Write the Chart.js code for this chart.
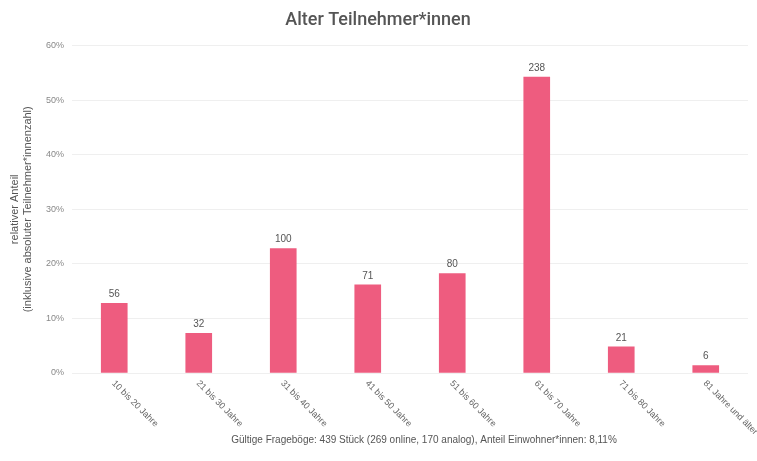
<!DOCTYPE html>
<html>
<head>
<meta charset="utf-8">
<script src="https://cdn.jsdelivr.net/npm/chart.js@4/dist/chart.umd.min.js"></script>
<style>
html,body{margin:0;padding:0;background:#fff;}
#wrap{width:757px;height:461px;position:relative;}
</style>
</head>
<body>
<div id="wrap"><canvas id="c" width="757" height="461"></canvas></div>
<script>
const categories = ["10 bis 20 Jahre","21 bis 30 Jahre","31 bis 40 Jahre","41 bis 50 Jahre","51 bis 60 Jahre","61 bis 70 Jahre","71 bis 80 Jahre","81 Jahre und älter"];
const counts = [56, 32, 100, 71, 80, 238, 21, 6];
const shares = [12.76, 7.29, 22.78, 16.17, 18.22, 54.21, 4.78, 1.37];
const yTicks = [0, 10, 20, 30, 40, 50, 60];
const titleText = "Alter Teilnehmer*innen";
const yTitle = ["relativer Anteil", "(inklusive absoluter Teilnehmer*innenzahl)"];
const footerText = "Gültige Frageböge: 439 Stück (269 online, 170 analog), Anteil Einwohner*innen: 8,11%";

const FONT = "'Liberation Sans', Arial, sans-serif";

const labelPlugin = {
  id: 'customText',
  afterDatasetsDraw(chart) {
    const ctx = chart.ctx;
    const meta = chart.getDatasetMeta(0);
    const xs = chart.scales.x;
    ctx.save();
    ctx.fillStyle = '#555';
    ctx.font = "10px " + FONT;
    ctx.textAlign = 'center';
    ctx.textBaseline = 'bottom';
    meta.data.forEach((bar, i) => {
      ctx.fillText(String(counts[i]), bar.x, bar.y - 4);
    });
    ctx.fillStyle = '#666';
    ctx.font = "9px " + FONT;
    ctx.textAlign = 'left';
    ctx.textBaseline = 'middle';
    categories.forEach((c, i) => {
      const x = xs.getPixelForTick(i);
      ctx.save();
      ctx.translate(x - 1, chart.chartArea.bottom + 9);
      ctx.rotate(Math.PI / 4);
      ctx.fillText(c, 0, 0);
      ctx.restore();
    });
    ctx.fillStyle = '#555';
    ctx.font = "10px " + FONT;
    ctx.textAlign = 'center';
    ctx.textBaseline = 'middle';
    ctx.fillText(footerText, 424, 440);
    ctx.restore();
  }
};

new Chart(document.getElementById('c'), {
  type: 'bar',
  data: {
    labels: categories,
    datasets: [{
      data: shares,
      backgroundColor: '#ee5c7f',
      borderWidth: 0,
      barThickness: 26
    }]
  },
  options: {
    responsive: false,
    animation: false,
    layout: { padding: { left: 8, right: 9, top: 0, bottom: 80 } },
    plugins: {
      legend: { display: false },
      tooltip: { enabled: false },
      title: {
        display: true,
        text: titleText,
        color: '#555',
        font: { family: "Roboto, sans-serif", size: 18, weight: '500' },
        padding: { top: 10, bottom: 14 }
      }
    },
    scales: {
      x: {
        grid: { display: false },
        border: { display: false },
        ticks: { display: false }
      },
      y: {
        min: 0,
        max: 60,
        afterBuildTicks(scale) { scale.ticks = yTicks.map(v => ({ value: v })); },
        afterFit(scale) { scale.width = 64; },
        border: { display: false },
        grid: { color: '#efefef', drawTicks: false },
        ticks: {
          color: '#888',
          font: { family: FONT, size: 9 },
          padding: 8,
          callback: v => v + '%'
        },
        title: {
          display: true,
          text: yTitle,
          color: '#555',
          font: { family: FONT, size: 11 },
          padding: { top: 0, bottom: 4 }
        }
      }
    }
  },
  plugins: [labelPlugin]
});
</script>
</body>
</html>
